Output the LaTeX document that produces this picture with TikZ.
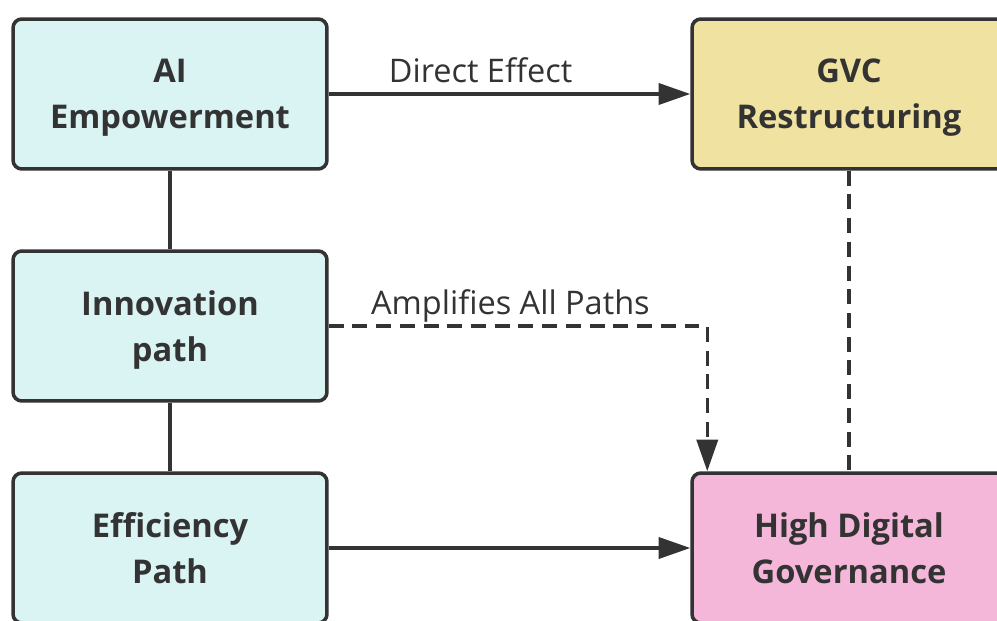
\documentclass[tikz,border=0pt]{standalone}
\usepackage{fontspec}
\setmainfont{Open Sans}
\usetikzlibrary{arrows.meta}
\definecolor{linegray}{HTML}{333333}
\definecolor{pathfill}{HTML}{DAF3F3}
\definecolor{gvcfill}{HTML}{F0E2A0}
\definecolor{govfill}{HTML}{F5B7D9}
\tikzset{>/.tip={Triangle[length=18pt,width=12pt]},
  box/.style={draw=linegray, line width=2pt, rounded corners=5pt,
    minimum width=6.28cm, minimum height=3cm, align=center, text depth=0pt,
    text=linegray, font=\fontsize{18.6}{26}\selectfont\bfseries},
  link/.style={draw=linegray, line width=2pt},
  lbl/.style={text=linegray, text depth=0.2em, font=\fontsize{18.5}{22}\selectfont}}

\begin{document}
\begin{tikzpicture}[x=0.02cm, y=-0.02cm]
\path[use as bounding box, fill=white] (0,0) rectangle (997,621);
\node[box, fill=pathfill] (ai)    at (170,94)  {AI\\Empowerment};
\node[box, fill=pathfill] (innov) at (170,326) {Innovation\\path};
\node[box, fill=pathfill] (eff)   at (170,548) {Efficiency\\Path};
\node[box, fill=gvcfill]  (gvc)   at (849,94)  {GVC\\Restructuring};
\node[box, fill=govfill]  (gov)   at (849,548) {High Digital\\Governance};
\draw[link, ->] (ai) -- node[lbl, above, pos=0.42] {Direct Effect} (gvc);
\draw[link] (ai) -- (innov);
\draw[link] (innov) -- (eff);
\draw[link, ->] (eff) -- (gov);
\draw[link, dash pattern=on 8.5pt off 5pt] (gvc) -- (gov);
\draw[link, dash pattern=on 8.5pt off 5pt, ->] (innov.east)
  -| node[lbl, above, pos=0.24] {Amplifies All Paths} ([xshift=0.34cm]gov.north west);
\end{tikzpicture}
\end{document}
